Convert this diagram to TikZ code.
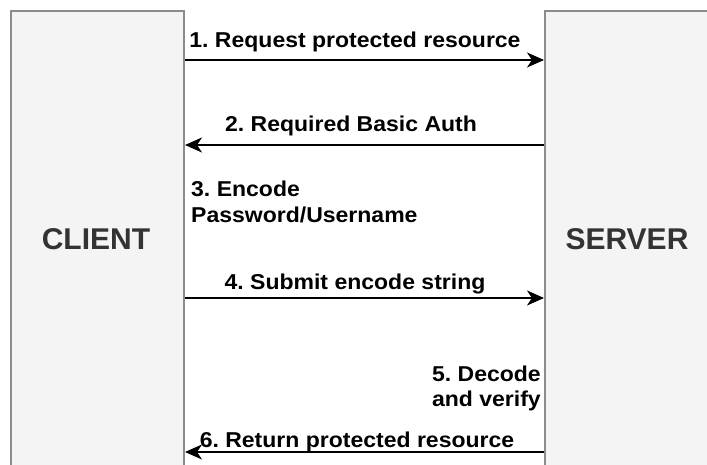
\documentclass[tikz,border=0pt]{standalone}
\usepackage{fontspec}
\setmainfont{Liberation Sans}
\newfontfamily\msgfont[FakeStretch=1.07]{Liberation Sans}
\usetikzlibrary{arrows.meta}
\definecolor{boxfill}{HTML}{F4F4F4}
\definecolor{boxline}{HTML}{8C8C8C}
\definecolor{partytext}{HTML}{333333}
\tikzset{
  party/.style={draw=boxline, fill=boxfill, line width=2pt, minimum width=173pt, minimum height=500pt, inner sep=0pt},
  partylabel/.style={font=\fontsize{30}{36}\bfseries\selectfont, text=partytext, inner sep=0pt},
  msg/.style={line width=1.5pt, -{Stealth[length=17pt, width=15pt, inset=5pt]}},
  msglabel/.style={font=\msgfont\fontsize{21.5}{26}\bfseries\selectfont, inner sep=0pt},
}
\frenchspacing
\begin{document}
\begin{tikzpicture}[x=1pt, y=-1pt]
  \useasboundingbox (0,0) rectangle (707,465);
  \clip (0,0) rectangle (707,465);
  \fill[white] (0,0) rectangle (707,465);
  % the two parties
  \node[party, anchor=north west] (client) at (10,10) {};
  \node[party, anchor=north west] (server) at (544,10) {};
  \node[partylabel] (clientlabel) at (96,239) {CLIENT};
  \node[partylabel] (serverlabel) at (627,239) {SERVER};
  % message heights
  \coordinate (m1) at (0,60);
  \coordinate (m2) at (0,145);
  \coordinate (m4) at (0,298);
  \coordinate (m6) at (0,452);
  % messages
  \draw[msg] (client.east |- m1) -- (server.west |- m1);
  \draw[msg] (server.west |- m2) -- (client.east |- m2);
  \draw[msg] (client.east |- m4) -- (server.west |- m4);
  \draw[msg] (server.west |- m6) -- (client.east |- m6);
  % labels
  \node[msglabel, anchor=base] (t1) at (355,48) {1. Request protected resource};
  \node[msglabel, anchor=base] (t2) at (351,132) {2. Required Basic Auth};
  \node[msglabel, anchor=base west] (t3) at (191,197) {3. Encode};
  \node[msglabel, anchor=base west] (t3b) at (191,223) {Password/Username};
  \node[msglabel, anchor=base] (t4) at (355,290) {4. Submit encode string};
  \node[msglabel, anchor=base east] (t5) at (541,381) {5. Decode};
  \node[msglabel, anchor=base east] (t5b) at (541,406) {and verify};
  \node[msglabel, anchor=base] (t6) at (357,447) {6. Return protected resource};
\end{tikzpicture}
\end{document}
